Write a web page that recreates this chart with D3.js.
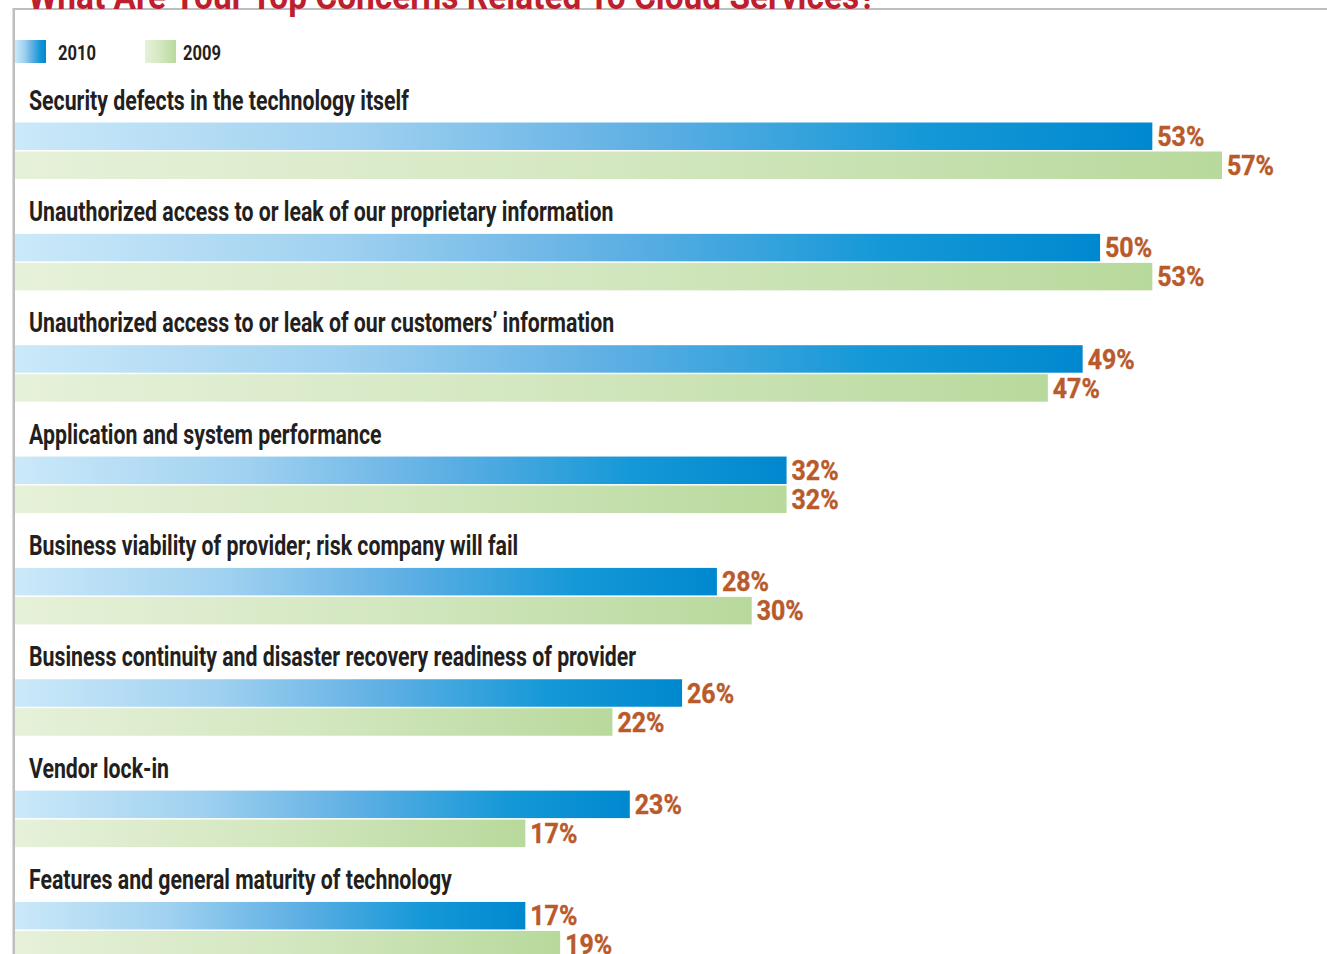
<!DOCTYPE html>
<html>
<head>
<meta charset="utf-8">
<script src="https://cdn.jsdelivr.net/npm/d3@7"></script>
<style>
  html, body { margin: 0; padding: 0; background: #fff; overflow: hidden; }
  svg { display: block; }
  text { font-family: "Liberation Sans Narrow", "Roboto", "Noto Sans", sans-serif; }
</style>
</head>
<body>
<svg id="chart" width="1327" height="954"></svg>
<script>
// data
const title = 'What Are Your Top Concerns Related To Cloud Services?';
const categories = [
  'Security defects in the technology itself',
  'Unauthorized access to or leak of our proprietary information',
  'Unauthorized access to or leak of our customers\u2019 information',
  'Application and system performance',
  'Business viability of provider; risk company will fail',
  'Business continuity and disaster recovery readiness of provider',
  'Vendor lock-in',
  'Features and general maturity of technology',
];
const seriesNames = ['2010', '2009'];
const values2010 = [53, 50, 49, 32, 28, 26, 23, 17];
const values2009 = [57, 53, 47, 32, 30, 22, 17, 19];

const W = 1327, H = 954;
const svg = d3.select('#chart');

// gradients
const defs = svg.append('defs');
const grads = {
  '2010': [[0, '#cbe9f9'], [0.3, '#a0d1f0'], [0.55, '#60b0e4'], [0.8, '#1598d7'], [1, '#0088cf']],
  '2009': [[0, '#e6f1d9'], [0.5, '#d3e7c0'], [1, '#b8d99c']],
};
Object.entries(grads).forEach(([k, stops]) => {
  const g = defs.append('linearGradient').attr('id', 'g' + k)
    .attr('x1', 0).attr('x2', 1).attr('y1', 0).attr('y2', 0);
  stops.forEach(([o, c]) => g.append('stop').attr('offset', o).attr('stop-color', c));
});

// squeeze a group of texts horizontally so a reference string gets its measured width
function condense(sel, refNode, targetWidth) {
  const f = targetWidth / refNode.getComputedTextLength();
  sel.each(function () {
    const t = d3.select(this);
    const x = +t.attr('data-x'), y = +t.attr('data-y');
    t.attr('transform', `translate(${x},${y}) scale(${f},1)`);
  });
}

// frame
svg.append('rect').attr('x', 13).attr('y', 8).attr('width', W).attr('height', 2).attr('fill', '#bcbec0');
svg.append('rect').attr('x', 12.5).attr('y', 8).attr('width', 2.5).attr('height', H).attr('fill', '#bcbec0');

// title (cut off by the top edge, as in the source)
const titleText = svg.append('text')
  .attr('data-x', 28).attr('data-y', 8.5)
  .attr('font-size', 36).attr('font-weight', 700).attr('fill', '#be1e2d')
  .text(title);
condense(titleText, titleText.node(), 848);

// legend
const legend = svg.append('g');
const legSwatchX = [15, 145], legTextX = [58, 183];
seriesNames.forEach((s, i) => {
  legend.append('rect').attr('x', legSwatchX[i]).attr('y', 40).attr('width', 31).attr('height', 23)
    .attr('fill', `url(#g${s})`);
  legend.append('text').attr('class', 'leg')
    .attr('data-x', legTextX[i]).attr('data-y', 60)
    .attr('font-size', 21).attr('font-weight', 700).attr('fill', '#231f20')
    .text(s);
});
const legTexts = legend.selectAll('text.leg');
condense(legTexts, legTexts.node(), 38);

// scales
const y = d3.scaleBand().domain(categories).range([122.5, 122.5 + 111.35 * 8]).paddingInner(0).paddingOuter(0);
const x = d3.scaleLinear().domain([-12.3, 57]).range([15, 1222]);
const barH = 27.5, gap = 1.5;

const rows = svg.append('g').selectAll('g').data(categories).join('g')
  .attr('transform', d => `translate(0,${y(d)})`);

rows.append('text').attr('class', 'cat')
  .attr('data-x', 29).attr('data-y', -13)
  .attr('font-size', 28).attr('font-weight', 700).attr('fill', '#231f20')
  .text(d => d);
const catTexts = rows.selectAll('text.cat');
condense(catTexts, catTexts.node(), 380);

const barData = (d, i) => [
  { s: '2010', v: values2010[i], off: 0 },
  { s: '2009', v: values2009[i], off: barH + gap },
];

rows.each(function (d, i) {
  const g = d3.select(this);
  barData(d, i).forEach(b => {
    g.append('rect')
      .attr('x', x.range()[0]).attr('y', b.off)
      .attr('width', x(b.v) - x.range()[0]).attr('height', barH)
      .attr('fill', `url(#g${b.s})`);
    g.append('text').attr('class', 'val')
      .attr('data-x', x(b.v) + 5).attr('data-y', b.off + barH - 4)
      .attr('font-size', 28).attr('font-weight', 700).attr('fill', '#b95a2b')
      .attr('stroke', '#b95a2b').attr('stroke-width', 0.4)
      .text(b.v + '%');
  });
});
const valTexts = svg.selectAll('text.val');
condense(valTexts, valTexts.node(), 47);
</script>
</body>
</html>
